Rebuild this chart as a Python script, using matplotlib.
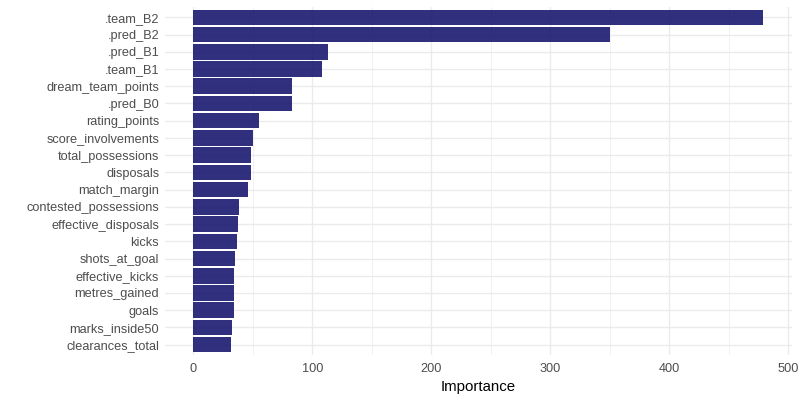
import matplotlib.pyplot as plt
from matplotlib.ticker import MultipleLocator

# variable importance, top to bottom as shown
features = ['.team_B2', '.pred_B2', '.pred_B1', '.team_B1', 'dream_team_points',
            '.pred_B0', 'rating_points', 'score_involvements', 'total_possessions',
            'disposals', 'match_margin', 'contested_possessions', 'effective_disposals',
            'kicks', 'shots_at_goal', 'effective_kicks', 'metres_gained', 'goals',
            'marks_inside50', 'clearances_total']
importance = [479, 350, 113.4, 108, 83.3, 83, 55, 50.4, 48.7, 48.5, 46, 38.6,
              37.8, 37, 35.3, 34.4, 34.3, 34.2, 32.7, 31.9]

plt.rcParams['font.family'] = ['Liberation Sans', 'DejaVu Sans']

fig = plt.figure(figsize=(8, 4), dpi=100)
ax = fig.add_axes([0.206, 0.1125, 0.784, 0.87])

n = len(features)
ypos = list(range(n, 0, -1))
ax.barh(ypos, importance, height=0.9, color='midnightblue', alpha=0.9, zorder=2)

xmax = max(importance)
ax.set_xlim(-0.05 * xmax, 1.05 * xmax)
ax.set_ylim(0.4, n + 0.6)
ax.set_yticks(ypos)
ax.set_yticklabels(features)
ax.xaxis.set_major_locator(MultipleLocator(100))
ax.xaxis.set_minor_locator(MultipleLocator(50))

ax.grid(True, which='major', color='#EBEBEB', linewidth=1.0, zorder=0)
ax.grid(True, which='minor', axis='x', color='#EBEBEB', linewidth=0.5, zorder=0)
ax.set_axisbelow(True)
for s in ax.spines.values():
    s.set_visible(False)
ax.tick_params(which='both', length=0, labelsize=9.2, labelcolor='#4D4D4D')
ax.tick_params(axis='x', pad=6)
ax.tick_params(axis='y', pad=4)

ax.set_xlabel('Importance', fontsize=10.8, color='black', labelpad=3)

fig.savefig('out.png', dpi=100)
